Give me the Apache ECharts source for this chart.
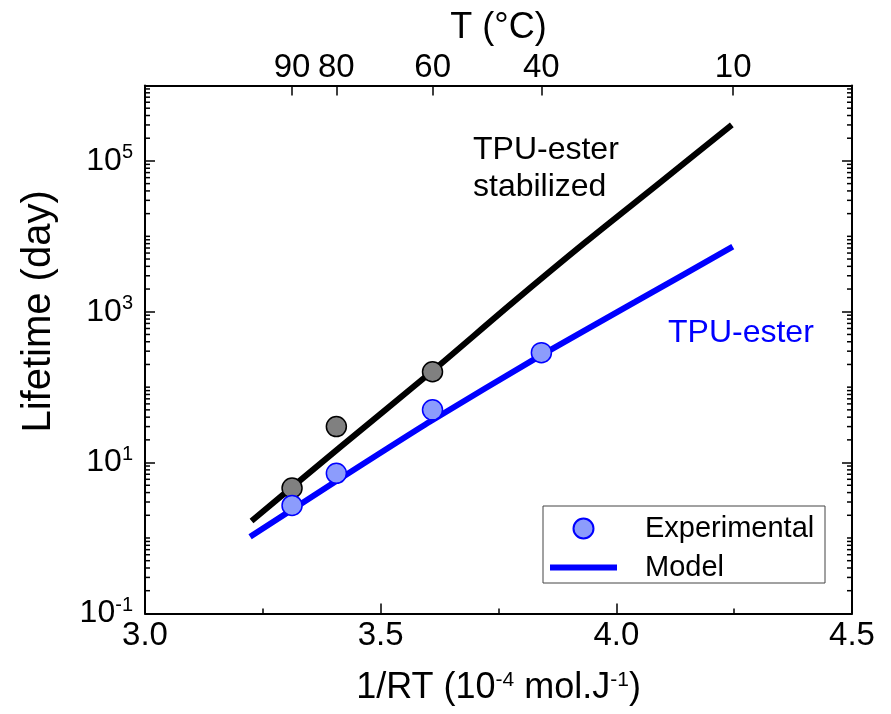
<!DOCTYPE html>
<html>
<head>
<meta charset="utf-8">
<style>
  html, body { margin: 0; padding: 0; background: #fff; }
  #chart { width: 891px; height: 714px; }
</style>
<script src="https://cdn.jsdelivr.net/npm/echarts@6/dist/echarts.min.js"></script>
</head>
<body>
<div id="chart"></div>
<script>
// Measured lifetimes (day) against 1/RT (10^-4 mol/J)
const expX = [3.312, 3.406, 3.610, 3.841];
const expEster = [2.7, 7.2, 50, 287];
const expStabX = [3.312, 3.406, 3.610];
const expStab = [4.6, 30, 160];

// Model curves
const modelEsterX = [3.223, 3.410, 3.605, 3.838, 4.040, 4.247];
const modelEster = [1.04, 5.9, 35, 260, 1350, 7300];
const modelStabX = [3.226, 3.416, 3.608, 3.780, 3.934, 4.090, 4.245];
const modelStab = [1.68, 16.4, 160, 1320, 8300, 50000, 300000];

// Temperature ticks of the top axis (°C)
const tempTicks = [90, 80, 60, 40, 10];
const R = 8.314;
const invRT = t => 1e4 / (R * (t + 273.15));

// Lifetime axis labels (every other decade) and minor ticks
const yMajor = [0.1, 10, 1000, 100000];
const yMinor = [];
for (let e = -1; e < 6; e++) {
  for (let k = 1; k <= 9; k++) {
    const v = k * Math.pow(10, e);
    if (!yMajor.some(m => Math.abs(m - v) / v < 1e-9)) yMinor.push(v);
  }
}

const FONT = 'Liberation Sans';
const pairs = (xs, ys) => xs.map((x, i) => [x, ys[i]]);

const chart = echarts.init(document.getElementById('chart'));

const yAxisBase = {
  type: 'log',
  logBase: 10,
  min: 0.1,
  max: 1e6,
  axisLine: { show: true, lineStyle: { color: '#000', width: 2 } },
  axisTick: { show: true, inside: true, length: 10, customValues: yMajor, lineStyle: { color: '#000', width: 1.5 } },
  splitLine: { show: false },
  minorTick: { show: false }
};

chart.setOption({
  animation: false,
  textStyle: { fontFamily: FONT },
  grid: { left: 145, right: 39, top: 85.5, bottom: 100.6 },
  xAxis: [
    {
      type: 'value', position: 'bottom', min: 3.0, max: 4.5, interval: 0.5,
      axisLine: { show: true, onZero: false, lineStyle: { color: '#000', width: 2 } },
      axisTick: { show: true, inside: true, length: 10, lineStyle: { color: '#000', width: 1.5 } },
      minorTick: { show: true, splitNumber: 2, length: 5, lineStyle: { color: '#000', width: 1.5 } },
      splitLine: { show: false },
      axisLabel: { color: '#000', fontSize: 33, fontFamily: FONT, margin: 6,
        formatter: v => v.toFixed(1) },
      name: '1/RT (10{sup|-4} mol.J{sup|-1})',
      nameLocation: 'middle', nameGap: 56,
      nameTextStyle: { color: '#000', fontSize: 36, fontFamily: FONT,
        rich: { sup: { fontSize: 21, fontFamily: FONT, color: '#000', verticalAlign: 'top', padding: [0, 0, 17, 0] } } }
    },
    {
      type: 'value', position: 'top', min: 3.0, max: 4.5,
      axisLine: { show: true, onZero: false, lineStyle: { color: '#000', width: 2 } },
      axisTick: { show: true, inside: true, length: 10, customValues: tempTicks.map(invRT), lineStyle: { color: '#000', width: 1.5 } },
      splitLine: { show: false },
      axisLabel: { color: '#000', fontSize: 33, fontFamily: FONT, margin: 1,
        customValues: tempTicks.map(invRT),
        formatter: v => String(Math.round(1e4 / (R * v) - 273.15)) },
      name: 'T (°C)', nameLocation: 'middle', nameGap: 39,
      nameTextStyle: { color: '#000', fontSize: 36, fontFamily: FONT }
    }
  ],
  yAxis: [
    Object.assign({}, yAxisBase, {
      position: 'left',
      axisLabel: {
        show: true, margin: 12, customValues: yMajor,
        formatter: v => '{b|10}{s|' + Math.round(Math.log10(v)) + '}',
        rich: {
          b: { fontSize: 32, fontFamily: FONT, color: '#000' },
          s: { fontSize: 20, fontFamily: FONT, color: '#000', padding: [0, 0, 16, 0] }
        }
      },
      name: 'Lifetime (day)', nameLocation: 'middle', nameGap: 86, nameRotate: 90,
      nameTextStyle: { color: '#000', fontSize: 40, fontFamily: FONT, padding: [0, 0, 0, 76] }
    }),
    Object.assign({}, yAxisBase, {
      position: 'right',
      axisLabel: { show: false }
    })
  ],
  legend: {
    left: 550, top: 514, orient: 'vertical',
    itemWidth: 67, itemHeight: 20, itemGap: 10,
    padding: 0,
    textStyle: { color: '#000', fontSize: 29, fontFamily: FONT, padding: [0, 0, 0, 23] },
    data: [
      { name: 'Experimental', icon: 'circle' },
      { name: 'Model', icon: 'path://M0,0 L67,0 L67,6 L0,6 Z' }
    ]
  },
  graphic: [
    { type: 'rect', shape: { x: 543, y: 506, width: 282, height: 77 },
      style: { fill: 'none', stroke: '#444', lineWidth: 1 }, z: 10 },
    { type: 'text', left: 473, top: 132,
      style: { text: 'TPU-ester\nstabilized', fill: '#000', font: '32px "Liberation Sans"', lineHeight: 37 } },
    { type: 'text', left: 668, top: 317,
      style: { text: 'TPU-ester', fill: '#0000ff', font: '32px "Liberation Sans"' } }
  ],
  series: [
    {
      name: 'Model (stabilized)', type: 'line', xAxisIndex: 0, yAxisIndex: 0,
      data: pairs(modelStabX, modelStab), showSymbol: false, symbol: 'none', smooth: 0.3,
      lineStyle: { color: '#000', width: 6 }, z: 2
    },
    {
      name: 'Model', type: 'line', xAxisIndex: 0, yAxisIndex: 0,
      data: pairs(modelEsterX, modelEster), showSymbol: false, symbol: 'none', smooth: 0.2,
      color: '#0000ff', itemStyle: { color: '#0000ff' },
      lineStyle: { color: '#0000ff', width: 6 }, z: 2
    },
    {
      name: 'Experimental (stabilized)', type: 'scatter', xAxisIndex: 0, yAxisIndex: 0,
      data: pairs(expStabX, expStab), symbol: 'circle', symbolSize: 20,
      itemStyle: { color: '#808080', borderColor: '#000', borderWidth: 1.5, opacity: 1 }, z: 3
    },
    {
      name: 'Experimental', type: 'scatter', xAxisIndex: 0, yAxisIndex: 0,
      data: pairs(expX, expEster), symbol: 'circle', symbolSize: 20,
      itemStyle: { color: '#8c9cfc', borderColor: '#0000ff', borderWidth: 1.5, opacity: 1 }, z: 3
    },
    {
      // minor ticks of the lifetime axis on both frame sides
      name: 'minorTicks', type: 'custom', xAxisIndex: 0, yAxisIndex: 0,
      silent: true, z: 5, clip: false,
      data: yMinor.map(v => [3.0, v]),
      renderItem: (params, api) => {
        const p = api.coord([api.value(0), api.value(1)]);
        const cs = params.coordSys;
        const style = { stroke: '#000', lineWidth: 1.5 };
        return {
          type: 'group',
          children: [
            { type: 'line', shape: { x1: cs.x, y1: p[1], x2: cs.x + 5, y2: p[1] }, style },
            { type: 'line', shape: { x1: cs.x + cs.width - 5, y1: p[1], x2: cs.x + cs.width, y2: p[1] }, style }
          ]
        };
      }
    }
  ]
});
</script>
</body>
</html>
